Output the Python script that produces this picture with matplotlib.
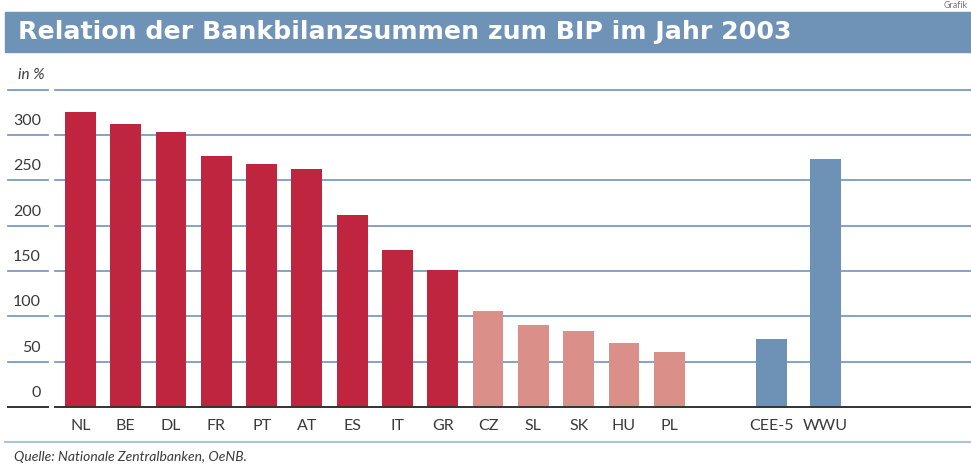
import matplotlib
matplotlib.use("Agg")
import matplotlib.pyplot as plt
from matplotlib.patches import Rectangle
from matplotlib.lines import Line2D
import matplotlib.transforms as mtrans

# ---- data ----
categories = ["NL", "BE", "DL", "FR", "PT", "AT", "ES", "IT", "GR",
              "CZ", "SL", "SK", "HU", "PL", "CEE-5", "WWU"]
values = [325, 312, 303, 277, 268, 262, 212, 173, 151,
          106, 90, 84, 71, 61, 75, 273]
groups = ["eu"] * 9 + ["cee"] * 5 + ["agg"] * 2
yticks = [0, 50, 100, 150, 200, 250, 300]

title = "Relation der Bankbilanzsummen zum BIP im Jahr 2003"
unit_label = "in %"
source = "Quelle: Nationale Zentralbanken, OeNB."

# ---- styles ----
colors = {"eu": "#c0253f", "cee": "#db8f89", "agg": "#6e92b6"}
grid_color = "#7b9cc0"
text_color = "#3a3a3a"
W, H = 971, 467

# layout positions: 14 equally spaced countries, then aggregate group after a gap
positions = list(range(14)) + [15.25, 16.45]

fig = plt.figure(figsize=(W / 100, H / 100), dpi=100)

# title bar
fig.patches.append(Rectangle((5 / W, 1 - 52 / H), 1 - 5 / W, 40 / H,
                             transform=fig.transFigure, color="#6f93b7", zorder=0))
fig.text(18 / W, 1 - 32 / H, title, color="white", fontsize=18.2,
         fontweight="bold", family="DejaVu Sans", va="center", ha="left")
fig.text(968 / W, 1 - 5 / H, "Grafik", color="#777777", fontsize=6.5,
         family="Lato", va="center", ha="right")

ax = fig.add_axes([55 / W, 1 - 407 / H, (W - 55) / W, (407 - 89.5) / H])
ax.set_xlim(-0.56, 19.66)
ax.set_ylim(0, 350)

bar_colors = [colors[g] for g in groups]
ax.bar(positions, values, width=0.68, color=bar_colors, zorder=3)

for s in ax.spines.values():
    s.set_visible(False)
ax.set_yticks([])
ax.set_xticks(positions)
ax.set_xticklabels(categories, fontsize=11.5, color=text_color, family="Lato")
ax.tick_params(axis="x", length=0, pad=9)

blend = mtrans.blended_transform_factory(fig.transFigure, ax.transData)
for yv in yticks + [350]:
    if yv == 0:
        c, lw = "#333333", 1.4
    else:
        c, lw = grid_color, 1.3
    ax.axhline(yv, color=c, lw=lw, zorder=1 if yv else 4, clip_on=False)
    ax.add_line(Line2D([8 / W, 48 / W], [yv, yv], transform=blend, color=c,
                       lw=lw, clip_on=False))
for yv in yticks:
    ax.text(41 / W, yv + 15.5, str(yv), transform=blend, ha="right",
            va="center", fontsize=11.5, color=text_color, family="Lato")
fig.text(31 / W, 1 - 75 / H, unit_label, fontsize=11, style="italic",
         color=text_color, family="Lato", ha="center", va="center")

# bottom separator & source
fig.add_artist(Line2D([5 / W, 1], [1 - 442 / H, 1 - 442 / H],
                      transform=fig.transFigure, color="#aec2d8", lw=1.5))
fig.text(14 / W, 1 - 457 / H, source, fontsize=10, style="italic",
         color=text_color, family="Lato", ha="left", va="center")

fig.savefig("out.png", dpi=100)
